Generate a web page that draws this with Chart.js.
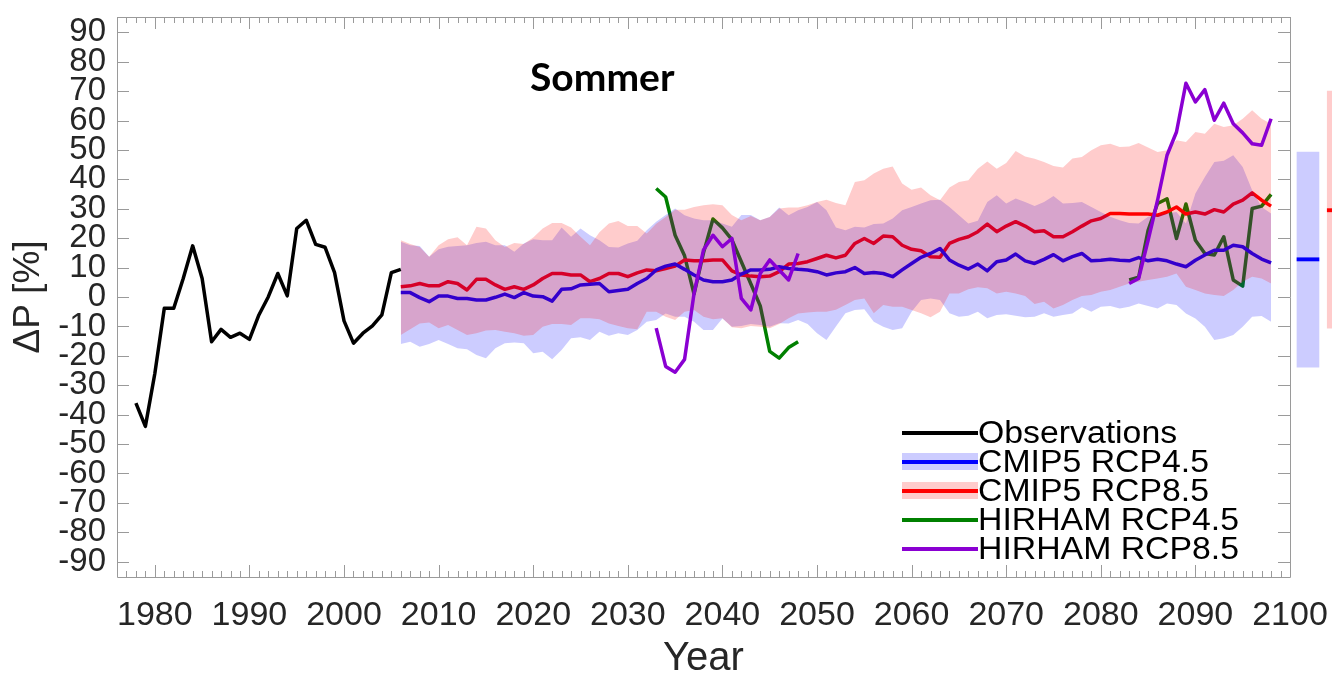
<!DOCTYPE html>
<html>
<head>
<meta charset="utf-8">
<title>Sommer</title>
<script src="https://cdn.jsdelivr.net/npm/chart.js@4.4.0/dist/chart.umd.min.js"></script>
<style>
  body { margin: 0; background: #fff; }
  #wrap { position: relative; width: 1332px; height: 673px; overflow: hidden; }
  #title { position: absolute; left: 530px; top: 57px; font: bold 39px Lato, sans-serif; line-height: 1; color: #000; }
  #legend { position: absolute; left: 902px; top: 418px; font-family: "Liberation Sans", Arial, sans-serif; font-size: 31px; color: #000; }
  .row { display: flex; align-items: center; height: 29px; line-height: 29px; white-space: nowrap; }
  .key { position: relative; width: 76px; height: 29px; flex: none; }
  .key .band { position: absolute; left: 0; right: 0; top: 6px; height: 17px; }
  .key .line { position: absolute; left: 0; right: 0; top: 13px; height: 3.5px; }
  .row span.txt { display: inline-block; transform: scaleX(1.09); transform-origin: left center; }
</style>
</head>
<body>
<div id="wrap">
  <canvas id="chart"></canvas>
  <div id="title">Sommer</div>
  <div id="legend"></div>
</div>
<script>
// observations
const obsStart = 1978;
const obsValues = [-36.1, -44.0, -26.0, -3.8, -3.8, 6.3, 17.4, 6.3, -15.2, -11.0,
  -13.7, -12.3, -14.4, -6.1, 0.1, 8.0, 0.4, 23.3, 26.1, 17.9,
  16.9, 8.3, -8.1, -15.7, -12.3, -9.8, -6.1, 8.3, 9.4];

// CMIP5 ensembles, 2006-2098
const cmipStart = 2006;
const rcp45Mid = [1.5, 1.5, -0.2, -1.6, 0.3, 0.3, -0.5, -0.5, -1.0, -1.0,
  -0.1, 1.0, -0.2, 1.5, 0.3, 0.1, -1.4, 2.6, 2.8, 4.1,
  4.3, 4.6, 1.8, 2.2, 2.6, 4.6, 6.3, 9.2, 10.5, 11.2,
  9.4, 7.5, 5.8, 5.2, 5.2, 5.8, 7.8, 9.2, 9.2, 9.4,
  10.3, 9.7, 9.4, 9.2, 8.6, 7.5, 8.2, 8.6, 10.0, 8.0,
  8.3, 8.0, 6.9, 9.2, 11.4, 13.5, 14.8, 16.5, 12.6, 10.8,
  9.5, 11.2, 8.9, 12.0, 12.6, 14.6, 12.3, 11.4, 12.8, 14.4,
  12.3, 13.7, 14.8, 12.3, 12.5, 12.8, 12.5, 12.3, 13.4, 12.3,
  12.8, 12.3, 11.2, 10.3, 12.5, 14.3, 15.9, 15.9, 17.6, 17.1,
  14.8, 12.9, 11.6];
const rcp45High = [18.8, 17.6, 17.3, 13.7, 16.2, 17.1, 17.3, 17.6, 18.4, 18.8,
  17.6, 17.6, 15.4, 18.2, 19.6, 19.3, 19.3, 23.6, 20.5, 23.3,
  21.0, 19.3, 17.0, 16.8, 18.2, 19.1, 22.7, 25.6, 27.9, 30.1,
  27.8, 26.7, 26.1, 26.1, 25.0, 23.9, 27.9, 27.9, 26.1, 27.2,
  30.4, 27.8, 29.5, 30.6, 32.3, 29.5, 23.6, 22.7, 23.9, 23.6,
  24.8, 25.0, 26.7, 29.5, 30.6, 31.8, 32.9, 33.1, 30.6, 27.8,
  25.0, 25.9, 32.3, 34.6, 31.8, 33.5, 32.3, 30.9, 32.3, 34.3,
  31.8, 32.0, 32.3, 30.6, 28.9, 27.3, 26.1, 25.2, 25.0, 27.3,
  27.8, 28.4, 28.9, 25.0, 35.2, 40.8, 45.9, 46.3, 48.2, 44.2,
  36.3, 30.6, 28.4];
const rcp45Low = [-16.0, -15.2, -16.9, -16.0, -14.6, -16.0, -17.4, -17.8, -19.7, -20.8,
  -17.4, -15.7, -15.5, -15.7, -19.1, -18.6, -21.2, -18.0, -14.0, -13.7,
  -14.6, -11.8, -13.2, -12.3, -12.9, -11.2, -8.4, -7.8, -5.6, -6.7,
  -6.7, -8.4, -11.2, -11.2, -7.3, -10.1, -9.9, -9.2, -9.5, -10.1,
  -8.9, -9.0, -7.8, -9.2, -12.3, -14.6, -10.0, -5.5, -4.4, -4.2,
  -8.4, -10.1, -11.2, -10.6, -5.0, -1.0, -0.5, -1.0, -5.5, -6.7,
  -6.4, -5.0, -7.2, -6.1, -5.9, -6.4, -6.9, -6.7, -5.5, -6.7,
  -6.1, -5.6, -3.5, -5.0, -3.3, -3.1, -3.9, -3.3, -2.2, -3.1,
  -3.9, -2.2, -2.7, -5.6, -7.3, -10.1, -14.6, -14.0, -12.9, -10.1,
  -6.7, -6.5, -8.4];
const rcp85Mid = [3.5, 3.8, 4.6, 3.8, 3.8, 5.2, 4.6, 2.4, 6.0, 6.0,
  4.1, 2.6, 3.5, 2.6, 4.1, 6.3, 8.0, 8.0, 7.5, 7.5,
  5.2, 6.3, 8.0, 8.0, 6.9, 8.2, 9.2, 8.9, 9.7, 10.5,
  12.6, 12.3, 12.3, 12.6, 12.6, 8.9, 7.5, 7.1, 6.9, 7.1,
  8.6, 11.2, 11.4, 12.0, 13.1, 14.2, 13.3, 14.2, 18.2, 19.9,
  18.2, 20.7, 20.5, 17.6, 16.2, 15.7, 13.7, 13.5, 18.2, 19.6,
  20.5, 22.2, 24.8, 22.2, 24.1, 25.6, 24.1, 22.2, 22.5, 20.5,
  20.5, 22.2, 24.1, 25.9, 26.7, 28.4, 28.4, 28.2, 28.2, 28.2,
  27.8, 28.9, 30.6, 28.2, 28.9, 28.2, 29.7, 28.9, 31.6, 32.9,
  35.4, 32.9, 30.9];
const rcp85High = [19.3, 18.0, 17.0, 13.7, 17.6, 19.6, 20.3, 17.6, 23.9, 23.3,
  19.3, 17.0, 18.4, 18.0, 20.2, 23.3, 25.2, 25.2, 23.6, 20.5,
  17.6, 22.0, 25.0, 25.8, 24.1, 24.1, 21.6, 24.9, 27.2, 29.7,
  29.7, 30.6, 31.2, 31.5, 31.2, 27.9, 26.1, 27.5, 26.1, 27.2,
  30.1, 30.4, 30.4, 31.2, 32.3, 33.1, 32.0, 31.2, 39.1, 39.7,
  42.0, 43.6, 44.4, 38.6, 36.5, 37.2, 34.6, 32.9, 37.2, 39.1,
  39.7, 43.6, 46.1, 43.6, 45.6, 49.6, 47.8, 47.0, 45.9, 44.5,
  44.0, 47.1, 47.6, 49.9, 51.6, 52.1, 51.0, 51.2, 52.4, 50.8,
  49.3, 49.9, 53.3, 52.7, 56.1, 55.5, 58.9, 57.8, 58.4, 60.6,
  63.5, 60.6, 58.9];
const rcp85Low = [-12.9, -11.0, -9.0, -8.7, -10.6, -9.5, -11.2, -12.9, -12.3, -11.4,
  -11.2, -11.8, -12.3, -13.2, -12.9, -10.1, -9.2, -9.2, -9.5, -7.2,
  -7.2, -7.6, -9.0, -9.9, -10.6, -11.0, -5.0, -5.0, -6.7, -7.8,
  -5.0, -4.4, -6.7, -7.6, -7.2, -10.3, -10.6, -9.9, -10.1, -10.6,
  -9.2, -7.2, -5.6, -5.3, -5.0, -5.0, -4.3, -2.7, -1.0, -0.5,
  -5.5, -2.7, -3.3, -3.3, -4.4, -5.5, -6.9, -5.0, 1.2, 1.2,
  2.6, 3.3, 3.0, 1.2, 1.8, 1.2, 0.3, -2.4, -1.6, -3.9,
  -2.7, -1.0, 0.3, 0.7, 1.8, 2.4, 3.5, 4.6, 5.2, 5.8,
  6.3, 6.9, 8.0, 3.5, 2.4, 1.2, 0.7, 0.3, 2.4, 5.2,
  6.9, 6.3, 4.6];

// HIRHAM runs, two 16-year windows
const hirStartA = 2033;
const hirStartB = 2083;
const hir45A = [36.9, 34.0, 21.0, 14.0, 1.0, 15.0, 26.5, 23.5, 19.5, 12.0, 4.5, -3.0, -18.5, -20.8, -17.2, -15.2];
const hir45B = [5.8, 6.7, 22.7, 31.8, 33.4, 19.9, 31.6, 19.3, 14.8, 14.3, 20.5, 5.8, 3.7, 30.1, 30.9, 34.9];
const hir85A = [-10.6, -23.6, -25.6, -21.2, 1.2, 16.0, 21.0, 17.1, 19.9, -0.5, -4.4, 8.0, 12.6, 9.2, 5.8, 14.8];
const hir85B = [4.6, 6.3, 19.3, 32.9, 48.2, 56.1, 72.7, 66.3, 70.5, 60.1, 65.9, 58.9, 55.8, 52.1, 51.6, 60.6];

// end-of-century summary columns (RCP4.5, RCP8.5)
const sideX = [2101.9, 2105.1];
const sideLow = [-23.9, -10.6];
const sideHigh = [49.3, 70.0];
const sideMid = [12.8, 29.5];

const yTicks = [-90, 90, 10];   // labelled ticks: first, last, step
const xTicks = [1980, 2100, 10];

const BLUE = '#0000ff', RED = '#ff0000', GREEN = '#008000', VIOLET = '#8a00d2';
const BLUE_FILL = 'rgba(0,0,255,0.2)', RED_FILL = 'rgba(255,0,0,0.2)';

const pts = (start, arr) => arr.map((v, i) => ({ x: start + i, y: v }));

function line(data, color, order, extra) {
  return Object.assign({
    type: 'line', data, borderColor: color, borderWidth: 3.5,
    pointRadius: 0, fill: false, tension: 0, order, borderJoinStyle: 'round'
  }, extra || {});
}

const datasets = [
  line(pts(obsStart, obsValues), '#000', 3),
  line(pts(cmipStart, rcp45Mid), BLUE, 3),
  line(pts(cmipStart, rcp85Mid), RED, 3),
  line(pts(hirStartA, hir45A), GREEN, 3),
  line(pts(hirStartB, hir45B), GREEN, 3),
  // RCP4.5 band
  line(pts(cmipStart, rcp45High), 'transparent', 2, { borderWidth: 0, fill: '+1', backgroundColor: BLUE_FILL }),
  line(pts(cmipStart, rcp45Low), 'transparent', 2, { borderWidth: 0 }),
  // RCP8.5 band
  line(pts(cmipStart, rcp85High), 'transparent', 1, { borderWidth: 0, fill: '+1', backgroundColor: RED_FILL }),
  line(pts(cmipStart, rcp85Low), 'transparent', 1, { borderWidth: 0 }),
  line(pts(hirStartA, hir85A), VIOLET, 0),
  line(pts(hirStartB, hir85B), VIOLET, 0),
  // summary columns to the right of the axes
  {
    type: 'bar', order: 0, clip: false, grouped: false, barThickness: 22,
    data: sideX.map((x, i) => ({ x, y: [sideLow[i], sideHigh[i]] })),
    backgroundColor: [BLUE_FILL, RED_FILL], borderWidth: 0
  },
  {
    type: 'bar', order: 0, clip: false, grouped: false, barThickness: 22,
    data: sideX.map((x, i) => ({ x, y: [sideMid[i] - 0.55, sideMid[i] + 0.55] })),
    backgroundColor: [BLUE, RED], borderWidth: 0
  }
];

// box with inward ticks, like the original figure
const frame = {
  id: 'frame',
  afterDatasetsDraw(chart) {
    const { ctx, chartArea: a, scales: { x, y } } = chart;
    ctx.save();
    ctx.strokeStyle = '#9a9a9a';
    ctx.lineWidth = 1;
    ctx.beginPath();
    ctx.rect(Math.round(a.left) + 0.5, Math.round(a.top) + 0.5,
      Math.round(a.right - a.left), Math.round(a.bottom - a.top));
    for (let yr = Math.ceil(x.min); yr <= x.max; yr++) {
      const px = Math.round(x.getPixelForValue(yr)) + 0.5;
      const len = yr % 10 === 0 ? 12 : 6;
      ctx.moveTo(px, a.bottom); ctx.lineTo(px, a.bottom - len);
      ctx.moveTo(px, a.top); ctx.lineTo(px, a.top + len);
    }
    y.ticks.forEach(t => {
      const py = Math.round(y.getPixelForValue(t.value)) + 0.5;
      ctx.moveTo(a.left, py); ctx.lineTo(a.left + 12, py);
      ctx.moveTo(a.right, py); ctx.lineTo(a.right - 12, py);
    });
    ctx.stroke();
    ctx.restore();
  }
};

const tickColor = '#262626';
const sans = '"Liberation Sans", Arial, Helvetica, sans-serif';

// keep the plot box fixed: no extra room reserved for overhanging labels
function fixX(s) {
  s.height = 96;
  s.paddingLeft = 0; s.paddingRight = 0;
}
function fixY(s) {
  s.width = 117;
  s.paddingTop = 0; s.paddingBottom = 0;
}

new Chart(document.getElementById('chart'), {
  type: 'line',
  data: { datasets },
  plugins: [frame],
  options: {
    responsive: true,
    maintainAspectRatio: false,
    animation: false,
    layout: { autoPadding: false, padding: { top: 17, right: 42, left: 0, bottom: 0 } },
    plugins: { legend: { display: false }, tooltip: { enabled: false } },
    scales: {
      x: {
        type: 'linear', min: 1976, max: xTicks[1], offset: false,
        grid: { display: false, offset: false }, border: { display: false },
        ticks: {
          stepSize: xTicks[2], includeBounds: false, autoSkip: false, maxRotation: 0,
          color: tickColor, padding: 10, font: { family: sans, size: 34 },
          callback: v => String(v)
        },
        title: { display: true, text: 'Year', color: tickColor, padding: { top: 0, bottom: -6 },
          font: { family: sans, size: 40, lineHeight: 1 } },
        afterFit: fixX
      },
      y: {
        type: 'linear', min: yTicks[0] - 5.2, max: yTicks[1] + 5.2, beginAtZero: false,
        grid: { display: false, drawTicks: false }, border: { display: false },
        ticks: {
          stepSize: yTicks[2], includeBounds: false, autoSkip: false,
          color: tickColor, padding: 11, font: { family: sans, size: 33 },
          callback: v => String(v)
        },
        title: { display: true, text: 'ΔP [%]', color: tickColor,
          padding: { top: 10, bottom: 0 }, font: { family: sans, size: 37, lineHeight: 1 } },
        afterFit: fixY
      }
    }
  }
});

// legend drawn as HTML in the lower right corner of the plot
const legendItems = [
  { label: 'Observations', color: '#000' },
  { label: 'CMIP5 RCP4.5', color: BLUE, band: BLUE_FILL },
  { label: 'CMIP5 RCP8.5', color: RED, band: RED_FILL },
  { label: 'HIRHAM RCP4.5', color: GREEN },
  { label: 'HIRHAM RCP8.5', color: VIOLET }
];
const legend = document.getElementById('legend');
legendItems.forEach(item => {
  const row = document.createElement('div');
  row.className = 'row';
  const key = document.createElement('div');
  key.className = 'key';
  if (item.band) {
    const b = document.createElement('div');
    b.className = 'band';
    b.style.background = item.band;
    key.appendChild(b);
  }
  const l = document.createElement('div');
  l.className = 'line';
  l.style.background = item.color;
  key.appendChild(l);
  const txt = document.createElement('span');
  txt.className = 'txt';
  txt.textContent = item.label;
  row.appendChild(key);
  row.appendChild(txt);
  legend.appendChild(row);
});
</script>
</body>
</html>
